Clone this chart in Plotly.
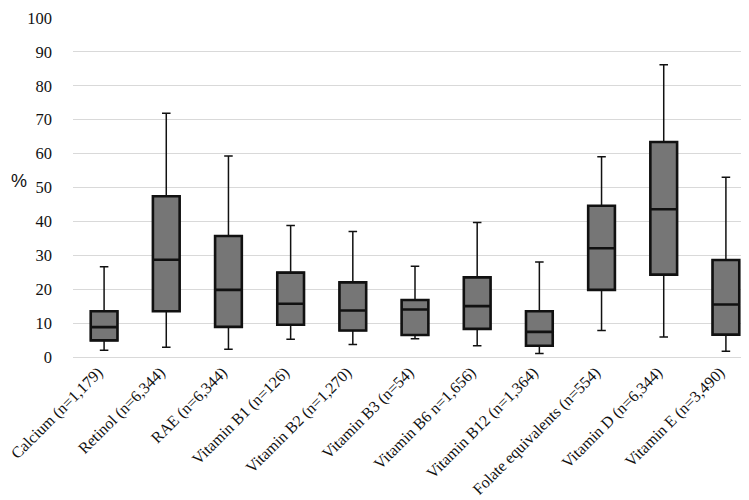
import plotly.graph_objects as go

categories = ["Calcium (n=1,179)", "Retinol (n=6,344)", "RAE (n=6,344)", "Vitamin B1 (n=126)",
              "Vitamin B2 (n=1,270)", "Vitamin B3 (n=54)", "Vitamin B6 n=1,656)", "Vitamin B12 (n=1,364)",
              "Folate equivalents (n=554)", "Vitamin D (n=6,344)", "Vitamin E (n=3,490)"]
minimum = [2.0, 2.9, 2.3, 5.2, 3.7, 5.4, 3.3, 1.0, 7.8, 5.9, 1.7]
q1 = [4.9, 13.5, 8.9, 9.5, 7.8, 6.5, 8.3, 3.3, 19.8, 24.3, 6.6]
median = [8.8, 28.7, 19.8, 15.7, 13.7, 14.0, 15.0, 7.4, 32.1, 43.6, 15.5]
q3 = [13.5, 47.4, 35.7, 24.9, 22.0, 16.8, 23.5, 13.5, 44.6, 63.4, 28.6]
maximum = [26.6, 71.9, 59.3, 38.8, 37.0, 26.8, 39.7, 28.0, 59.1, 86.2, 53.0]
y_ticks = list(range(0, 101, 10))

fig = go.Figure()
# whiskers (thin lines)
fig.add_trace(go.Box(
    x=categories, q1=q1, median=median, q3=q3, lowerfence=minimum, upperfence=maximum,
    fillcolor="#767676", line=dict(color="#111111", width=1.5), width=0.43, whiskerwidth=0.32,
    boxpoints=False, hoverinfo="skip", showlegend=False))
# boxes (thick outline)
fig.add_trace(go.Box(
    x=categories, q1=q1, median=median, q3=q3, lowerfence=q1, upperfence=q3,
    fillcolor="#767676", line=dict(color="#111111", width=2.6), width=0.43, whiskerwidth=0,
    boxpoints=False, showlegend=False))

fig.update_layout(
    width=749, height=500, boxmode="overlay",
    margin=dict(l=65, r=0, t=10, b=151),
    paper_bgcolor="white", plot_bgcolor="white",
    font=dict(family="Liberation Serif, Times New Roman, serif", size=16, color="#111111"),
    xaxis=dict(type="category", tickangle=-45, showgrid=False, showline=False, ticks="",
               range=[-0.5, 10.5], tickfont=dict(size=16), ticklabelstandoff=2,
               ticklabelshift=-6, automargin=False),
    yaxis=dict(range=[0, 100], tickvals=y_ticks, showgrid=True, gridcolor="#d9d9d9", gridwidth=1.3,
               zeroline=True, zerolinecolor="#d9d9d9", zerolinewidth=1.3, showline=False,
               ticks="", ticklabelstandoff=20, tickfont=dict(size=16.5), automargin=False),
    annotations=[dict(text="%", xref="paper", yref="paper", x=-0.079, y=0.52, xanchor="center",
                      yanchor="middle", showarrow=False,
                      font=dict(family="Liberation Sans, Arial, sans-serif", size=18, color="#111111"))],
)

fig.write_html("out.html")
